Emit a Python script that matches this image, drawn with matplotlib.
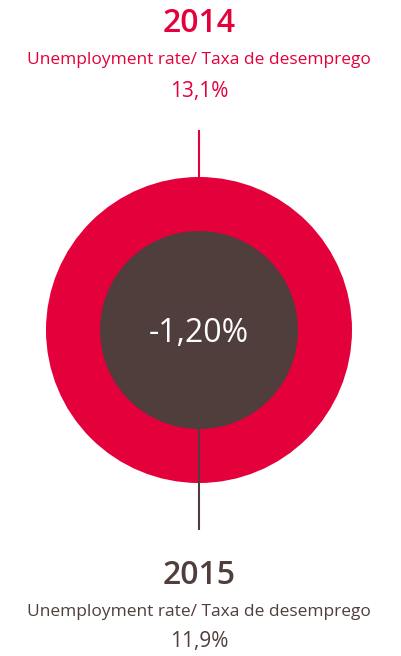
import matplotlib
matplotlib.use("Agg")
import matplotlib.pyplot as plt
from matplotlib.patches import Circle

# Data
years = ["2014", "2015"]
rates = [13.1, 11.9]
label = "Unemployment rate/ Taxa de desemprego"
change = rates[1] - rates[0]

RED = "#E4003A"
BROWN = "#4F3E3C"
FONT = "Open Sans"

def fmt_pt(v, decimals):
    return f"{v:.{decimals}f}".replace(".", ",")

W, H = 402, 656
fig = plt.figure(figsize=(W / 100, H / 100), dpi=100)
ax = fig.add_axes([0, 0, 1, 1])
ax.set_xlim(0, W)
ax.set_ylim(H, 0)
ax.axis("off")

cx, cy = 199, 330
r_outer, r_inner = 153, 99

# connector lines
ax.plot([cx, cx], [130, cy], color=RED, lw=1.5, zorder=1, solid_capstyle="butt")
ax.add_patch(Circle((cx, cy), r_outer, color=RED, zorder=2, lw=0))
ax.add_patch(Circle((cx, cy), r_inner, color=BROWN, zorder=3, lw=0))
ax.plot([cx, cx], [cy, 530], color=BROWN, lw=1.5, zorder=4, solid_capstyle="butt")

ax.text(cx, cy + 4, fmt_pt(change, 2) + "%", color="white", fontsize=23,
        family=FONT, ha="center", va="center", zorder=5)

# top block (2014)
ax.text(cx, 23, years[0], color=RED, fontsize=23, family=FONT,
        fontweight="semibold", ha="center", va="center")
ax.text(cx, 60, label, color=RED, fontsize=12.5, family=FONT,
        ha="center", va="center")
ax.text(cx, 91, fmt_pt(rates[0], 1) + "%", color=RED, fontsize=15,
        family=FONT, ha="center", va="center")

# bottom block (2015)
ax.text(cx, 575, years[1], color=BROWN, fontsize=23, family=FONT,
        fontweight="semibold", ha="center", va="center")
ax.text(cx, 612, label, color=BROWN, fontsize=12.5, family=FONT,
        ha="center", va="center")
ax.text(cx, 642, fmt_pt(rates[1], 1) + "%", color=BROWN, fontsize=15,
        family=FONT, ha="center", va="center")

fig.savefig("out.png", dpi=100)
